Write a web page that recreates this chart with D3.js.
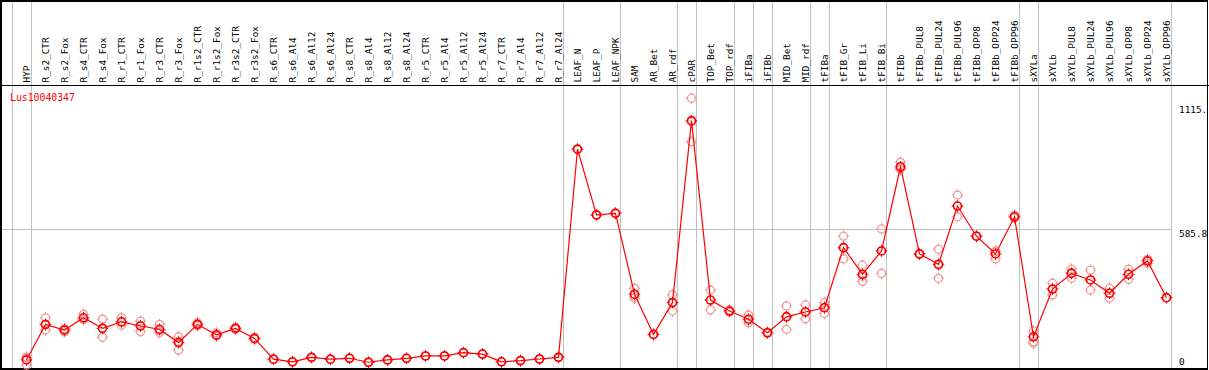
<!DOCTYPE html>
<html>
<head>
<meta charset="utf-8">
<script src="https://cdn.jsdelivr.net/npm/d3@7"></script>
<style>
  body { margin: 0; background: #fff; }
  text { font-family: "DejaVu Sans Mono", monospace; }
</style>
</head>
<body>
<div id="chart"></div>
<script>
const seriesName = "Lus10040347";

const categories = [
  "HYP", "R_s2_CTR", "R_s2_Fox", "R_s4_CTR", "R_s4_Fox", "R_r1_CTR", "R_r1_Fox", "R_r3_CTR", "R_r3_Fox",
  "R_r1s2_CTR", "R_r1s2_Fox", "R_r3s2_CTR", "R_r3s2_Fox",
  "R_s6_CTR", "R_s6_Al4", "R_s6_Al12", "R_s6_Al24", "R_s8_CTR", "R_s8_Al4", "R_s8_Al12", "R_s8_Al24",
  "R_r5_CTR", "R_r5_Al4", "R_r5_Al12", "R_r5_Al24", "R_r7_CTR", "R_r7_Al4", "R_r7_Al12", "R_r7_Al24",
  "LEAF_N", "LEAF_P", "LEAF_NPK", "SAM", "AR_Bet", "AR_rdf", "cPAR", "TOP_Bet", "TOP_rdf",
  "iFIBa", "iFIBb", "MID_Bet", "MID_rdf", "tFIBa", "tFIB_Gr", "tFIB_Li", "tFIB_Bi",
  "tFIBb", "tFIBb_PUL8", "tFIBb_PUL24", "tFIBb_PUL96", "tFIBb_OPP8", "tFIBb_OPP24", "tFIBb_OPP96",
  "sXYLa", "sXYLb", "sXYLb_PUL8", "sXYLb_PUL24", "sXYLb_PUL96", "sXYLb_OPP8", "sXYLb_OPP24", "sXYLb_OPP96"
];

// mean expression per sample
const means = [
  26, 178, 154, 206, 161, 189, 171, 157, 100,
  178, 133, 161, 118,
  29, 18, 37, 29, 33, 16, 26, 33,
  43, 43, 57, 51, 18, 23, 30, 37,
  927, 646, 653, 307, 135, 271, 1049, 282, 235,
  200, 142, 210, 231, 249, 506, 392, 492,
  852, 479, 435, 684, 555, 479, 638,
  125, 329, 396, 368, 311, 392, 449, 292
];

// replicate values per sample
const reps = [
  [34, 4, 38], [206, 154, 175], [160, 146, 155], [221, 200, 199], [200, 123, 161], [206, 175, 187],
  [192, 147, 174], [178, 142, 151], [125, 68, 106],
  [185, 172, 178], [142, 128, 128], [166, 156, 162], [122, 114, 119],
  [30, 28, 29], [19, 17, 18], [38, 36, 37], [30, 28, 29], [34, 32, 33], [17, 15, 16], [27, 25, 26], [34, 32, 33],
  [44, 42, 43], [44, 42, 43], [58, 56, 57], [52, 50, 51], [19, 17, 18], [24, 22, 23], [31, 29, 30], [38, 36, 37],
  [929, 925, 927], [648, 644, 646], [655, 651, 653], [332, 290, 298], [137, 134, 135], [304, 235, 273],
  [1145, 959, 1043], [325, 240, 282], [240, 231, 235],
  [218, 185, 196], [145, 140, 142], [257, 157, 214], [261, 202, 230], [271, 225, 252], [555, 458, 505],
  [431, 362, 384], [586, 396, 493],
  [871, 841, 845], [480, 476, 481], [499, 375, 431], [731, 638, 684], [556, 553, 555], [492, 458, 487], [645, 632, 638],
  [150, 104, 97], [354, 304, 330], [414, 375, 400], [410, 325, 368], [332, 290, 311], [413, 371, 392], [439, 452, 456],
  [292, 291, 293]
];

// last sample of each group (vertical separators)
const groupEnds = ["HYP", "R_r7_Al24", "LEAF_NPK", "AR_rdf", "cPAR", "TOP_rdf", "iFIBa", "iFIBb",
  "MID_rdf", "tFIBa", "tFIB_Bi", "tFIBb_OPP96", "sXYLa", "sXYLb_OPP96"];

const yTicks = [0, 585.8, 1115];
const yTickLabels = ["0", "585.8", "1115."];
const yMax = 1171.6;

const width = 1209;
const height = 370;
const headerY = 85.5;

const x = d3.scalePoint()
      .domain(categories)
      .range([26.5, 1166.5]);

const y = d3.scaleLinear()
      .domain([0, yMax])
      .range([366, 92]);

const sepOffset = 4.5;

const svg = d3.select("#chart").append("svg")
      .attr("width", width)
      .attr("height", height)
      .attr("viewBox", [0, 0, width, height]);

// vertical separators
const seps = [x(categories[0]) - x.step()].concat(groupEnds.map(c => x(c)));
svg.append("g")
    .selectAll("line")
    .data(seps)
    .join("line")
    .attr("x1", d => Math.round(d + sepOffset) + 0.5)
    .attr("x2", d => Math.round(d + sepOffset) + 0.5)
    .attr("y1", 1)
    .attr("y2", height - 1)
    .attr("stroke", "#c0c0c0")
    .attr("stroke-width", 1)
    .attr("shape-rendering", "crispEdges");

// horizontal mid grid line
svg.append("line")
    .attr("x1", 1)
    .attr("x2", Math.round(x(categories[categories.length - 1]) + sepOffset) + 0.5)
    .attr("y1", Math.round(y(yTicks[1])) + 0.5)
    .attr("y2", Math.round(y(yTicks[1])) + 0.5)
    .attr("stroke", "#c0c0c0")
    .attr("shape-rendering", "crispEdges");

// header labels
svg.append("g")
    .selectAll("text")
    .data(categories)
    .join("text")
    .attr("transform", d => `translate(${x(d) + 3},${headerY - 3}) rotate(-90)`)
    .attr("font-size", 9.4)
    .attr("fill", "#000")
    .text(d => d);

// header separator and frame
svg.append("line")
    .attr("x1", 0).attr("x2", width)
    .attr("y1", headerY).attr("y2", headerY)
    .attr("stroke", "#000")
    .attr("shape-rendering", "crispEdges");

svg.append("rect")
    .attr("x", 1).attr("y", 1)
    .attr("width", width - 2.5).attr("height", height - 2)
    .attr("fill", "none")
    .attr("stroke", "#000")
    .attr("stroke-width", 1.5)
    .attr("shape-rendering", "crispEdges");

// y labels on the right
svg.append("g")
    .selectAll("text")
    .data(yTicks)
    .join("text")
    .attr("x", 1179)
    .attr("y", (d, i) => i === 0 ? y(d) - 1 : y(d) + 7.5)
    .attr("font-size", 9.4)
    .attr("fill", "#000")
    .text((d, i) => yTickLabels[i]);

// series name
svg.append("text")
    .attr("x", 10)
    .attr("y", 101)
    .attr("font-size", 9.8)
    .attr("fill", "#ff0000")
    .text(seriesName);

const marker = (g, color, sw) => {
  g.append("circle")
      .attr("r", 4)
      .attr("fill", "none")
      .attr("stroke", color)
      .attr("stroke-width", sw);
  g.append("path")
      .attr("d", "M0,-5.8V-3.5M0,3.5V5.8M-5.8,0H-3.5M3.5,0H5.8")
      .attr("stroke", color)
      .attr("stroke-width", 1);
};

// replicates
const repData = categories.flatMap((c, i) => reps[i].map(v => ({c, v})));
svg.append("g")
    .selectAll("g")
    .data(repData)
    .join("g")
    .attr("transform", d => `translate(${x(d.c)},${y(d.v)})`)
    .each(function() { marker(d3.select(this), "#f09898", 1.3); });

// mean line
const line = d3.line()
      .x((d, i) => x(categories[i]))
      .y(d => y(d));

svg.append("path")
    .datum(means)
    .attr("fill", "none")
    .attr("stroke", "#ff0000")
    .attr("stroke-width", 1.2)
    .attr("d", line);

// mean markers
svg.append("g")
    .selectAll("g")
    .data(means)
    .join("g")
    .attr("transform", (d, i) => `translate(${x(categories[i])},${y(d)})`)
    .each(function() { marker(d3.select(this), "#ff0000", 1.6); });
</script>
</body>
</html>
